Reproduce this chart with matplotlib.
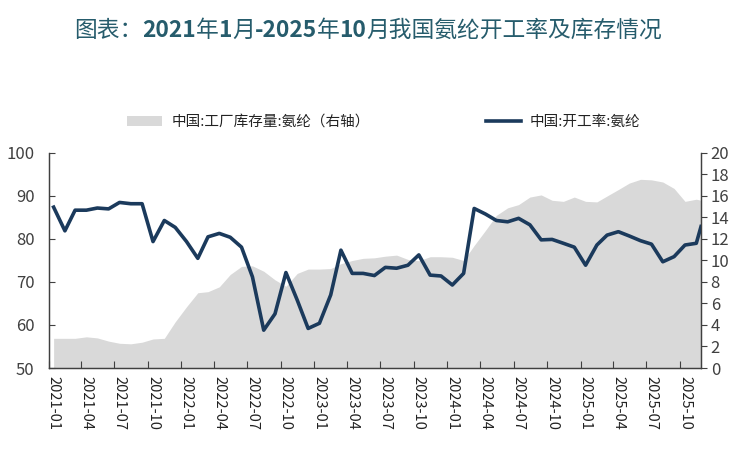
import pandas as pd
import numpy as np
import matplotlib
matplotlib.use('Agg')
import matplotlib.pyplot as plt
import matplotlib.dates as mdates
from matplotlib.patches import Patch
from matplotlib.lines import Line2D

plt.rcParams['font.family'] = ['Noto Sans CJK SC', 'DejaVu Sans']

# monthly data 2021-01 .. 2025-11, plus latest reading at end of Nov 2025
months = pd.date_range('2021-01-01', '2025-11-01', freq='MS') + pd.Timedelta(days=14)
dates = list(months) + [pd.Timestamp('2025-11-28')]

# 中国:开工率:氨纶 (%)
rate = [87.4, 81.9, 86.7, 86.7, 87.2, 87.0, 88.5, 88.2, 88.2, 79.4,
        84.3, 82.7, 79.4, 75.5, 80.5, 81.3, 80.4, 78.1, 71.2, 58.8,
        62.6, 72.2, 65.8, 59.2, 60.4, 67.0, 77.4, 72.0, 72.0, 71.5,
        73.4, 73.2, 73.9, 76.3, 71.6, 71.4, 69.3, 72.0, 87.1, 85.8,
        84.3, 84.0, 84.8, 83.3, 79.8, 79.9, 79.0, 78.1, 73.9, 78.6,
        80.9, 81.7, 80.7, 79.6, 78.8, 74.7, 75.9, 78.6, 79.0, 82.9]

# 中国:工厂库存量:氨纶 (右轴)
stock = [2.76, 2.76, 2.76, 2.9, 2.8, 2.5, 2.3, 2.25, 2.4, 2.7,
         2.76, 4.3, 5.7, 7.0, 7.1, 7.55, 8.7, 9.45, 9.5, 9.0,
         8.2, 7.6, 8.8, 9.2, 9.2, 9.25, 9.7, 10.0, 10.2, 10.25,
         10.4, 10.5, 10.1, 9.98, 10.35, 10.35, 10.3, 10.0, 11.4, 12.8,
         14.2, 14.9, 15.2, 15.9, 16.1, 15.6, 15.5, 15.9, 15.5, 15.45,
         16.0, 16.6, 17.2, 17.55, 17.5, 17.3, 16.7, 15.5, 15.7, 15.6]

# title pieces: (text, bold?)
title_parts = [('图表：', False), ('2021', True), ('年', False), ('1', True), ('月', False),
               ('-2025', True), ('年', False), ('10', True), ('月我国氨纶开工率及库存情况', False)]

line_color = '#1B3A5C'
area_color = '#D9D9D9'
text_color = '#404040'
title_color = '#265C6C'

fig = plt.figure(figsize=(7.5, 4.65), dpi=100)
ax = fig.add_axes([0.0647, 0.2086, 0.87, 0.4624])
ax2 = ax.twinx()

ax2.fill_between(dates, 0, stock, color=area_color, linewidth=0)
ax.plot(dates, rate, color=line_color, linewidth=2.6, solid_joinstyle='round')

ax.set_zorder(ax2.get_zorder() + 1)
ax.patch.set_visible(False)

ax.set_xlim(pd.Timestamp('2021-01-01'), pd.Timestamp('2025-11-28'))
ax.set_ylim(50, 100)
ax2.set_ylim(0, 20)
ax.set_yticks(np.arange(50, 101, 10))
ax2.set_yticks(np.arange(0, 21, 2))

ax.xaxis.set_major_locator(mdates.MonthLocator(bymonth=[1, 4, 7, 10], bymonthday=1))
ax.xaxis.set_major_formatter(plt.NullFormatter())
ax.xaxis.set_minor_locator(mdates.MonthLocator(bymonth=[1, 4, 7, 10], bymonthday=15))
ax.xaxis.set_minor_formatter(mdates.DateFormatter('%Y-%m'))
ax.tick_params(axis='x', which='major', direction='in', length=5, color=text_color)
ax.tick_params(axis='x', which='minor', length=0, pad=6, labelsize=10.5,
               labelcolor='#222222', labelrotation=-90)

ax.tick_params(axis='y', direction='in', length=4, labelsize=12, labelcolor=text_color,
               color=text_color, pad=10)
ax2.tick_params(axis='y', direction='out', length=4, labelsize=12, labelcolor=text_color,
                color=text_color, pad=3)

for a in (ax, ax2):
    a.spines['top'].set_visible(False)
    for s in ('left', 'right', 'bottom'):
        a.spines[s].set_color(text_color)
        a.spines[s].set_linewidth(0.9)

# title drawn piece by piece: digits bold, Chinese regular
renderer = fig.canvas.get_renderer()
pieces = []
for txt, bold in title_parts:
    t = fig.text(0, 0.935, txt, ha='left', va='center', fontsize=16.4,
                 fontweight='bold' if bold else 'normal', color=title_color)
    pieces.append(t)
widths = [t.get_window_extent(renderer).width for t in pieces]
x = 368 - sum(widths) / 2
for t, w in zip(pieces, widths):
    t.set_x(x / fig.bbox.width)
    x += w

handles = [Patch(facecolor=area_color, edgecolor='none'),
           Line2D([0], [0], color=line_color, linewidth=2.6)]
labels = ['中国:工厂库存量:氨纶（右轴）', '中国:开工率:氨纶']
fig.legend(handles, labels, loc='center', bbox_to_anchor=(0.512, 0.738), ncol=2,
           frameon=False, fontsize=10.5, columnspacing=8, handlelength=2.4,
           handletextpad=0.6, labelcolor='#222222')

fig.savefig('out.png', dpi=100)
